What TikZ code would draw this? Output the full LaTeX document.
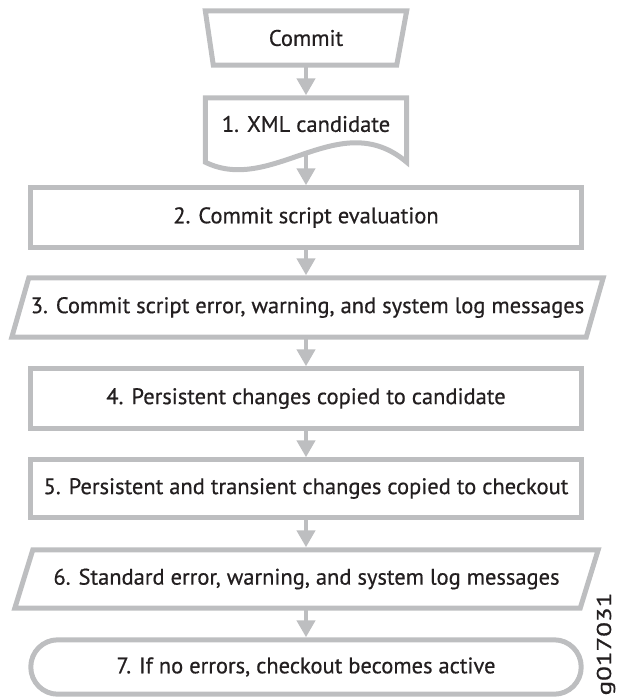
\documentclass[tikz,border=0pt]{standalone}
\usepackage{fontspec}
\setmainfont{PT Sans}[FakeBold=0.6]
\usetikzlibrary{arrows.meta,calc}
\definecolor{lg}{RGB}{189,190,192}
\definecolor{tx}{RGB}{35,31,32}
\begin{document}
\begin{tikzpicture}[x=1pt,y=-1pt,
  frame/.style={draw=none,inner sep=0pt,text=tx,font=\fontsize{22.5}{26}\selectfont},
  edge/.style={draw=lg,line width=5pt,line join=miter},
  arr/.style={draw=lg,line width=4.5pt,shorten >=2.5pt,-{Triangle[width=18pt,length=17pt]}},
  gid/.style={text=tx,font=\fontsize{20}{22}\selectfont,rotate=90,inner sep=0pt}]
\useasboundingbox (0,0) rectangle (616,698);
% nodes
\node[frame,minimum width=201pt,minimum height=54pt] (c) at (306,38) {Commit};
\node[frame,minimum width=201pt,minimum height=64pt] (b1) at (306,130) {};
\node[frame] (t1) at (306,124) {1. XML candidate};
\node[frame,minimum width=550pt,minimum height=59pt] (b2) at (306,217.5) {2. Commit script evaluation};
\node[frame,minimum width=591pt,minimum height=59pt] (b3) at (307.5,307.5) {3. Commit script error, warning, and system log messages};
\node[frame,minimum width=550pt,minimum height=59pt] (b4) at (306,398.5) {4. Persistent changes copied to candidate};
\node[frame,minimum width=550pt,minimum height=57pt] (b5) at (306,488.5) {5. Persistent and transient changes copied to checkout};
\node[frame,minimum width=583pt,minimum height=58pt] (b6) at (306.5,579) {6. Standard error, warning, and system log messages};
\node[frame,minimum width=550pt,minimum height=54pt] (b7) at (306,667) {7. If no errors, checkout becomes active};
\node[gid] (g) at (606,644) {\scalebox{1.35}[1]{g017031}};
% shapes
\draw[edge] (c.north west) -- (c.north east) -- ([xshift=-10pt]c.south east) -- ([xshift=8pt]c.south west) -- cycle;
\draw[edge] (b1.south west) -- (b1.north west) -- (b1.north east) -- (b1.south east)
  .. controls ($(b1.south east)+(-67,-57)$) and ($(b1.south west)+(67,33)$) .. (b1.south west) -- cycle;
\draw[edge] (b2.north west) rectangle (b2.south east);
\draw[edge] ([xshift=17pt]b3.north west) -- (b3.north east) -- ([xshift=-17pt]b3.south east) -- (b3.south west) -- cycle;
\draw[edge] (b4.north west) rectangle (b4.south east);
\draw[edge] (b5.north west) rectangle (b5.south east);
\draw[edge] ([xshift=18pt]b6.north west) -- (b6.north east) -- ([xshift=-18pt]b6.south east) -- (b6.south west) -- cycle;
\draw[edge,rounded corners=27pt] (b7.north west) rectangle (b7.south east);
% connectors
\draw[arr] (c.south) -- (b1.north);
\draw[arr] ([yshift=8pt]b1.south) -- (b2.north);
\draw[arr] (b2.south) -- (b2.south |- b3.north);
\draw[arr] (b3.south -| b4.north) -- (b4.north);
\draw[arr] (b4.south) -- (b5.north);
\draw[arr] (b5.south) -- (b5.south |- b6.north);
\draw[arr] (b6.south -| b7.north) -- (b7.north);
\end{tikzpicture}
\end{document}
